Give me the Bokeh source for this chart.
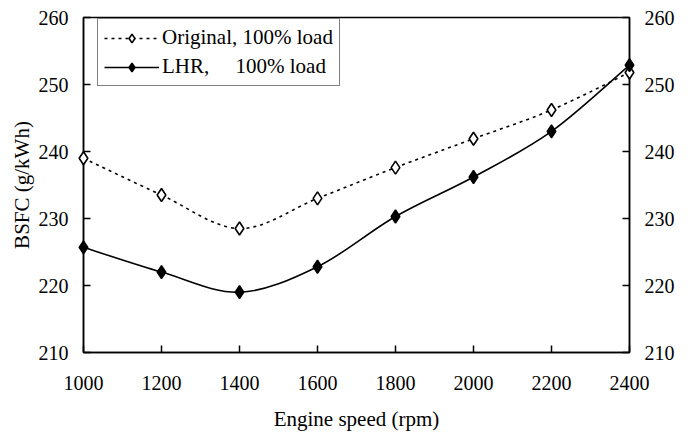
from bokeh.plotting import figure
from bokeh.models import Range1d, LinearAxis, FixedTicker, Legend, LegendItem
from bokeh.embed import file_html
from bokeh.resources import INLINE

speed = [1000, 1200, 1400, 1600, 1800, 2000, 2200, 2400]
bsfc_original = [239.0, 233.5, 228.5, 233.0, 237.6, 241.9, 246.2, 251.8]
bsfc_lhr = [225.7, 222.0, 219.0, 222.8, 230.3, 236.2, 243.0, 252.9]
x_ticks = [1000, 1200, 1400, 1600, 1800, 2000, 2200, 2400]
y_ticks = [210, 220, 230, 240, 250, 260]
label_original = "Original, 100% load"
label_lhr = "LHR,\u00a0\u00a0\u00a0\u00a0 100% load"

FONT = "Liberation Serif"
TICK_FS = "20px"
LABEL_FS = "21px"


def smooth_segments(xs, ys):
    n = len(xs)
    x0, y0, x1, y1, cx0, cy0, cx1, cy1 = [], [], [], [], [], [], [], []
    for i in range(n - 1):
        im = max(i - 1, 0)
        ip = min(i + 2, n - 1)
        x0.append(xs[i]); y0.append(ys[i])
        x1.append(xs[i + 1]); y1.append(ys[i + 1])
        cx0.append(xs[i] + (xs[i + 1] - xs[im]) / 6.0)
        cy0.append(ys[i] + (ys[i + 1] - ys[im]) / 6.0)
        cx1.append(xs[i + 1] - (xs[ip] - xs[i]) / 6.0)
        cy1.append(ys[i + 1] - (ys[ip] - ys[i]) / 6.0)
    return dict(x0=x0, y0=y0, x1=x1, y1=y1, cx0=cx0, cy0=cy0, cx1=cx1, cy1=cy1)


p = figure(width=694, height=435, output_backend="svg", toolbar_location=None,
           x_range=Range1d(1000, 2400), y_range=Range1d(210, 260),
           x_axis_location=None, y_axis_location=None,
           min_border_left=83, min_border_right=65, min_border_top=17, min_border_bottom=83,
           frame_width=546, frame_height=335)
p.grid.visible = False
p.outline_line_color = "black"
p.outline_line_width = 1.5
p.background_fill_color = "white"
p.border_fill_color = "white"


def style_axis(ax):
    ax.axis_line_color = "black"
    ax.axis_line_width = 1.5
    ax.major_tick_in = 7
    ax.major_tick_out = 0
    ax.major_tick_line_width = 1.5
    ax.minor_tick_line_color = None
    ax.major_label_text_font = FONT
    ax.major_label_text_font_size = TICK_FS
    ax.major_label_text_color = "black"
    ax.axis_label_text_font = FONT
    ax.axis_label_text_font_size = LABEL_FS
    ax.axis_label_text_font_style = "normal"
    ax.axis_label_text_color = "black"


xax = LinearAxis(ticker=FixedTicker(ticks=x_ticks), axis_label="Engine speed (rpm)")
style_axis(xax)
xax.major_label_standoff = 23
xax.axis_label_standoff = 14
p.add_layout(xax, "below")

yax = LinearAxis(ticker=FixedTicker(ticks=y_ticks), axis_label="BSFC (g/kWh)")
style_axis(yax)
yax.major_label_standoff = 15
yax.axis_label_standoff = 2
p.add_layout(yax, "left")

yax2 = LinearAxis(ticker=FixedTicker(ticks=y_ticks))
style_axis(yax2)
yax2.major_label_standoff = 15
p.add_layout(yax2, "right")

r1 = p.bezier(source=smooth_segments(speed, bsfc_original), x0="x0", y0="y0", x1="x1", y1="y1",
              cx0="cx0", cy0="cy0", cx1="cx1", cy1="cy1",
              line_color="black", line_width=1.6, line_dash="3 4")
m1 = p.scatter(speed, bsfc_original, marker="diamond", size=13,
               fill_color="white", line_color="black", line_width=1.6)
r2 = p.bezier(source=smooth_segments(speed, bsfc_lhr), x0="x0", y0="y0", x1="x1", y1="y1",
              cx0="cx0", cy0="cy0", cx1="cx1", cy1="cy1",
              line_color="black", line_width=1.6)
m2 = p.scatter(speed, bsfc_lhr, marker="diamond", size=13,
               fill_color="black", line_color="black", line_width=1.5)

for r in (m1, m2):
    r.level = "overlay"

legend = Legend(items=[LegendItem(label=label_original, renderers=[r1, m1]),
                       LegendItem(label=label_lhr, renderers=[r2, m2])],
                location=(14, 266))
legend.border_line_color = "black"
legend.border_line_width = 1.5
legend.background_fill_alpha = 1
legend.label_text_font = FONT
legend.label_text_font_size = LABEL_FS
legend.label_text_color = "black"
legend.glyph_width = 55
legend.glyph_height = 22
legend.label_standoff = 3
legend.padding = 6
legend.spacing = 4
legend.margin = 0
legend.label_height = 22
p.add_layout(legend, "center")

open("out.html", "w").write(file_html(p, INLINE))
